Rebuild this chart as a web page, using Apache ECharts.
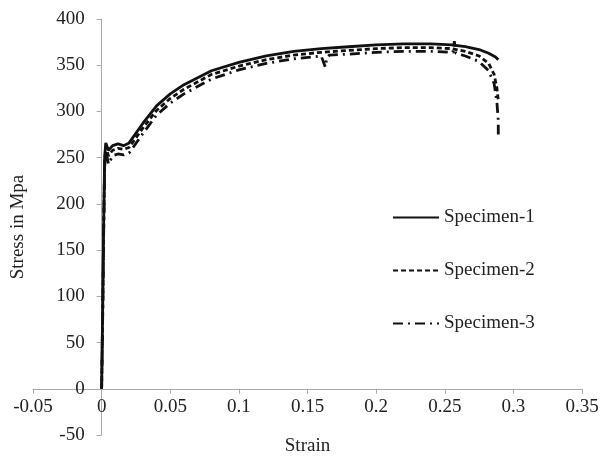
<!DOCTYPE html>
<html>
<head>
<meta charset="utf-8">
<script src="https://cdn.jsdelivr.net/npm/echarts@6/dist/echarts.min.js"></script>
<style>
  html, body { margin: 0; padding: 0; background: #fff; }
  #chart { width: 601px; height: 461px; }
</style>
</head>
<body>
<div id="chart"></div>
<script>
// strain / stress readings for the three specimens
const strain1 = [0, 0.0008, 0.0015, 0.0022, 0.003, 0.005, 0.008, 0.012, 0.016, 0.02, 0.03, 0.04, 0.05, 0.06, 0.08, 0.1, 0.12, 0.14, 0.16, 0.18, 0.2, 0.22, 0.24, 0.255, 0.265, 0.275, 0.282, 0.287, 0.289];
const stress1 = [0, 90, 180, 250, 266, 258, 263, 265, 263, 266, 287, 306, 319, 329, 344, 353, 360, 365, 368, 370, 372, 373, 373, 372, 370, 367, 363, 359, 356];

const strain2 = [0, 0.0008, 0.0015, 0.0022, 0.003, 0.005, 0.008, 0.012, 0.016, 0.02, 0.03, 0.04, 0.05, 0.06, 0.08, 0.1, 0.12, 0.14, 0.16, 0.18, 0.2, 0.22, 0.24, 0.255, 0.265, 0.275, 0.282, 0.286, 0.288, 0.289];
const stress2 = [0, 85, 175, 245, 262, 252, 258, 260, 259, 261, 282, 301, 314, 324, 340, 349, 356, 361, 364, 366, 368, 369, 369, 368, 365, 360, 352, 340, 325, 312];

const strain3 = [0, 0.0008, 0.0015, 0.0022, 0.003, 0.005, 0.008, 0.012, 0.016, 0.02, 0.03, 0.04, 0.05, 0.06, 0.08, 0.1, 0.12, 0.14, 0.16, 0.163, 0.164, 0.166, 0.18, 0.2, 0.22, 0.24, 0.256, 0.257, 0.258, 0.265, 0.275, 0.282, 0.286, 0.288, 0.289, 0.289];
const stress3 = [0, 80, 170, 240, 258, 243, 252, 254, 253, 255, 276, 296, 309, 319, 335, 345, 352, 357, 360, 348, 358, 361, 362, 364, 365, 365, 364, 376, 363, 360, 354, 344, 330, 310, 290, 275];

const legendNames = ['Specimen-1', 'Specimen-2', 'Specimen-3'];

function pairs(xs, ys) {
  return xs.map((x, i) => [x, ys[i]]);
}

const chart = echarts.init(document.getElementById('chart'));
const font = 'Liberation Serif, Times New Roman, serif';

// axes cross at the origin; the labels go with them
const gridTop = 19, gridBottom = 26, gridLeft = 33, gridRight = 19;
const plotH = 461 - gridTop - gridBottom;
const plotW = 601 - gridLeft - gridRight;
const xAxisShift = plotH * 50 / 450;   // distance from -50 up to 0
const yAxisShift = plotW * 0.05 / 0.4; // distance from -0.05 over to 0

chart.setOption({
  animation: false,
  grid: { left: gridLeft, right: gridRight, top: gridTop, bottom: gridBottom, outerBoundsMode: 'none', containLabel: false },
  legend: {
    orient: 'vertical',
    left: 387,
    top: 203,
    itemWidth: 46,
    itemHeight: 14,
    itemGap: 34,
    itemStyle: { opacity: 0 },
    textStyle: { fontFamily: font, fontSize: 19, color: '#222' },
    data: legendNames
  },
  xAxis: {
    type: 'value',
    min: -0.05,
    max: 0.35,
    interval: 0.05,
    offset: -xAxisShift,
    name: 'Strain',
    nameLocation: 'middle',
    nameGap: 48,
    nameTextStyle: { fontFamily: font, fontSize: 19, color: '#222' },
    axisLine: { onZero: false, lineStyle: { color: '#aaa', width: 1 } },
    axisTick: { show: true, length: 5, lineStyle: { color: '#aaa' } },
    axisLabel: {
      fontFamily: font, fontSize: 19, color: '#222', margin: 9,
      formatter: v => String(Math.round(v * 100) / 100)
    },
    splitLine: { show: false }
  },
  yAxis: {
    type: 'value',
    min: -50,
    max: 400,
    interval: 50,
    offset: -yAxisShift,
    name: 'Stress in Mpa',
    nameLocation: 'middle',
    nameRotate: 90,
    nameGap: 74,
    nameTextStyle: { fontFamily: font, fontSize: 19, color: '#222' },
    axisLine: { show: true, onZero: false, lineStyle: { color: '#aaa', width: 1 } },
    axisTick: { show: true, length: 5, lineStyle: { color: '#aaa' } },
    axisLabel: { fontFamily: font, fontSize: 19, color: '#222', margin: 17 },
    splitLine: { show: false }
  },
  series: [
    {
      name: legendNames[0], type: 'line', symbol: 'none',
      data: pairs(strain1, stress1),
      lineStyle: { color: '#111', width: 2.8, type: 'solid' },
      itemStyle: { color: '#111' }
    },
    {
      name: legendNames[1], type: 'line', symbol: 'none',
      data: pairs(strain2, stress2),
      lineStyle: { color: '#111', width: 2.8, type: [5, 3] },
      itemStyle: { color: '#111' }
    },
    {
      name: legendNames[2], type: 'line', symbol: 'none',
      data: pairs(strain3, stress3),
      lineStyle: { color: '#111', width: 2.8, type: [10, 5, 2, 5] },
      itemStyle: { color: '#111' }
    }
  ]
});
</script>
</body>
</html>
